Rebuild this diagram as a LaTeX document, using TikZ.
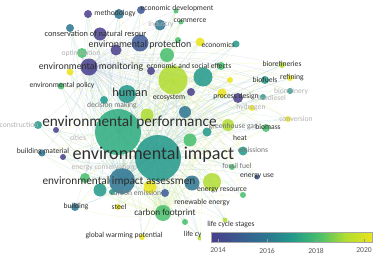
\documentclass[tikz,border=0pt]{standalone}
\usepackage{fontspec}
\setmainfont{Carlito}
\usepackage{tikz}
\usetikzlibrary{backgrounds}
\definecolor{yrA}{RGB}{72,62,140}
\definecolor{yrB}{RGB}{60,88,150}
\definecolor{yrC}{RGB}{44,116,145}
\definecolor{yrD}{RGB}{34,152,138}
\definecolor{yrDE}{RGB}{44,172,128}
\definecolor{yrE}{RGB}{70,190,108}
\definecolor{yrF}{RGB}{176,220,50}
\definecolor{yrG}{RGB}{234,228,26}
\pgfdeclarehorizontalshading{yearbar}{100bp}{color(0bp)=(yrA); color(25bp)=(yrA);
  color(41.67bp)=(yrC); color(50bp)=(yrD); color(58.33bp)=(yrE);
  color(66.67bp)=(yrF); color(75bp)=(yrG); color(100bp)=(yrG)}

\begin{document}
\begin{tikzpicture}[x=1pt,y=-1pt,
  kw/.style={circle,inner sep=0pt,minimum size=#1,fill opacity=0.85},
  edge/.style={line width=0.35pt,draw opacity=0.42},
  lbl/.style={inner sep=0pt,text=black!82,font=\fontsize{7.6}{8}\selectfont},
  faint/.style={lbl,text=black!30},
  semi/.style={lbl,text=black!55},
  fs/.style={font=\fontsize{#1}{#1}\selectfont}]
  \useasboundingbox (0,0) rectangle (385,262);
  % ---- keyword circles
  \foreach \n/\x/\y/\d/\c in {
    meth/119/14/10/yrC, mtha/88/14/8/yrA, edev/176/11/5/yrE, edva/141/10/8/yrB,
    comm/181/22/5/yrE, indu/160/25/11/yrC, cnsa/70/28/8/yrC, cons/100/34/13/yrA,
    prta/116/50/11/yrA, prot/140/43/17/yrB, prtb/178/40/6/yrE, prtc/200/42/9/yrG,
    econ/236/44/7/yrD, opti/82/53/10/yrE, huma/167/55/14/yrE, envm/89/67/17/yrA,
    esoc/151/71/8/yrA, esca/203/77/19/yrD, escb/221/66/8/yrE, mona/70/72/7/yrG,
    epol/61/86/7/yrE, hum/173/80/29/yrF, humb/127/94/18/yrD, brfs/282/65/6/yrF,
    refi/290/78/6/yrG, biof/265/80/8/yrD, biob/230/80/6/yrG, brfy/290/91/6/yrD,
    ecos/191/92/8/yrA, proc/238/98/10/yrA, prca/222/93/9/yrG, bdsl/263/97/6/yrD,
    deci/104/100/8/yrD, hydr/252/108/6/yrG, perfa/185/112/12/yrC,
    perf/118/132/46/yrDE, perfb/147/115/13/yrF, ghg/228/125/12/yrF,
    conv/288/119/6/yrG, biom/266/128/8/yrE, cstr/38/125/8/yrD, csta/56/130/6/yrA,
    emis/243/151/9/yrD, bmat/42/153/7/yrC, bmta/63/157/6/yrA, impb/190/140/13/yrE,
    impc/207/132/9/yrD, imp/158/158/46/yrD, impd/85/178/10/yrE, impe/100/190/13/yrD,
    eia/122/181/26/yrC, eiaa/150/187/13/yrG, eiab/165/193/8/yrB, eiac/192/183/15/yrC,
    eiad/212/182/18/yrF, eres/243/195/6/yrE, cfp/163/213/16/yrE, renw/185/222/6/yrE,
    cems/112/192/6/yrD, bldg/75/207/8/yrC, stel/118/207/6/yrG, gwp/142/237/6/yrG,
    euse/257/177/5/yrB, lcs/225/220/5/yrF, lcyc/200/238/5/yrF, fosl/232/167/6/yrE}
    \node[kw=\d,fill=\c] (\n) at (\x,\y) {};
  % ---- links (behind the circles)
  \begin{scope}[on background layer]
    \foreach \h/\c in {imp/yrD!45, perf/yrE!40, hum/yrG!60, eia/yrC!40, envm/yrB!35, cfp/yrF!50} {
      \foreach \n in {meth,mtha,edev,edva,comm,indu,cnsa,cons,prta,prot,prtb,prtc,
        econ,opti,huma,esoc,esca,escb,mona,epol,humb,brfs,refi,biof,biob,brfy,ecos,
        proc,prca,bdsl,deci,hydr,perfa,perfb,ghg,conv,biom,cstr,csta,emis,bmat,bmta,
        impb,impc,impd,impe,eiaa,eiab,eiac,eiad,eres,renw,cems,bldg,stel,gwp,euse,
        lcs,lcyc,fosl}
        \draw[edge,\c] (\h.center) to[bend left=14] (\n.center);
    }
    \foreach \a/\b in {imp/perf,imp/hum,imp/eia,imp/envm,imp/cfp,perf/hum,perf/eia,
      perf/envm,perf/cfp,hum/eia,hum/envm,hum/cfp,eia/envm,eia/cfp,envm/cfp}
      \draw[edge,yrD!50] (\a.center) to[bend left=14] (\b.center);
  \end{scope}
  % ---- labels
  \node[lbl] (l-meth) at (115,14) {methodology};
  \node[lbl] (l-edev) at (177,8) {economic development};
  \node[lbl] (l-comm) at (190,21) {commerce};
  \node[faint] (l-indu) at (161,24) {industry};
  \node[lbl,fs=8.3] (l-cons) at (95.5,34) {conservation of natural resour};
  \node[lbl,fs=9.9] (l-prot) at (140,45) {environmental protection};
  \node[lbl] (l-econ) at (218,45) {economics};
  \node[faint] (l-opti) at (81,53) {optimization};
  \node[lbl,fs=9.8] (l-envm) at (91,67) {environmental monitoring};
  \node[lbl] (l-esoc) at (189,66) {economic and social effects};
  \node[lbl] (l-brfs) at (282,64) {biorefineries};
  \node[lbl] (l-refi) at (292,78) {refining};
  \node[lbl] (l-biof) at (265,80) {biofuels};
  \node[lbl] (l-epol) at (62,85) {environmental policy};
  \node[lbl,fs=12.3] (l-hum) at (130,92) {human};
  \node[faint] (l-brfy) at (291,91) {biorefinery};
  \node[lbl] (l-ecos) at (169,98) {ecosystem};
  \node[lbl] (l-proc) at (236,97) {process design};
  \node[faint] (l-bdsl) at (272,98) {biodiesel};
  \node[semi] (l-deci) at (112,106) {decision making};
  \node[faint] (l-hydr) at (251,108) {hydrogen};
  \node[lbl,fs=15.3] (l-perf) at (129.5,122) {environmental performance};
  \node[faint] (l-conv) at (296,119) {conversion};
  \node[faint] (l-cstr) at (19,125) {construction};
  \node[semi] (l-ghg) at (233,127) {greenhouse gas};
  \node[lbl] (l-biom) at (268,127) {biomass};
  \node[lbl] (l-heat) at (240,138) {heat};
  \node[faint] (l-citi) at (78,138) {cities};
  \node[semi] (l-emis) at (253,150) {emissions};
  \node[lbl] (l-bmat) at (43,152) {building material};
  \node[lbl,fs=18.1] (l-imp) at (153.5,155) {environmental impact};
  \node[semi] (l-fosl) at (237,166) {fossil fuel};
  \node[faint] (l-econs) at (103,168) {energy conservation};
  \node[lbl,fs=11.3] (l-eia) at (119,181) {environmental impact assessmen};
  \node[lbl] (l-euse) at (257,176) {energy use};
  \node[semi] (l-cems) at (136,193) {carbon emission};
  \node[lbl] (l-eres) at (222,190) {energy resource};
  \node[lbl] (l-renw) at (202,203) {renewable energy};
  \node[lbl] (l-bldg) at (76,207) {building};
  \node[lbl] (l-stel) at (119,207) {steel};
  \node[lbl,fs=9.2] (l-cfp) at (165,213) {carbon footprint};
  \node[lbl] (l-lcs) at (231,225) {life cycle stages};
  \node[lbl] (l-gwp) at (124,236) {global warming potential};
  \node[lbl] (l-lcyc) at (197,234) {life cycle};
  % ---- year scale
  \fill[white] (201,229) rectangle (385,262);
  \shade[shading=yearbar,draw=black!35,line width=0.4pt] (211,232) rectangle (372,242);
  \foreach \yr/\x in {2014/218,2016/267,2018/316,2020/364} {
    \draw[black!40,line width=0.4pt] (\x,242) -- (\x,239);
    \node[lbl,text=black!65] (t\yr) at (\x,250.5) {\yr};
  }
\end{tikzpicture}
\end{document}
